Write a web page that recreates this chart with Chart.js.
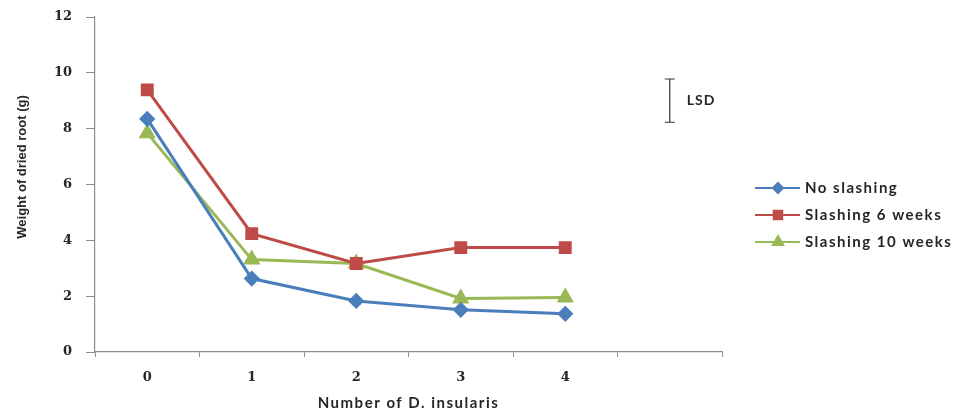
<!DOCTYPE html>
<html>
<head>
<meta charset="utf-8">
<script src="https://cdn.jsdelivr.net/npm/chart.js@4"></script>
<style>
  html, body { margin: 0; padding: 0; background: #fff; }
  #wrap { width: 974px; height: 413px; position: relative; }
</style>
</head>
<body>
<div id="wrap"><canvas id="c" width="974" height="413"></canvas></div>
<script>
const categories = ['0', '1', '2', '3', '4', ''];
const noSlashing = [8.35, 2.63, 1.83, 1.51, 1.37];
const slashing6 = [9.39, 4.24, 3.17, 3.74, 3.74];
const slashing10 = [7.84, 3.31, 3.17, 1.92, 1.95];
const lsdRange = [8.23, 9.78];
const lsdIndex = 5;

const COLORS = { blue: '#4a7ebb', red: '#be4b48', green: '#98b954' };
const TEXT = '#262626';

// draws y title, x title, LSD bar and the legend
const extras = {
  id: 'extras',
  afterDraw(chart) {
    const { ctx, scales } = chart;
    ctx.save();

    // LSD bar
    const x = scales.x.getPixelForValue(lsdIndex);
    const y1 = scales.y.getPixelForValue(lsdRange[0]);
    const y2 = scales.y.getPixelForValue(lsdRange[1]);
    ctx.strokeStyle = '#333';
    ctx.lineWidth = 1.2;
    ctx.beginPath();
    ctx.moveTo(x, y1); ctx.lineTo(x, y2);
    ctx.moveTo(x - 5, y1); ctx.lineTo(x + 5, y1);
    ctx.moveTo(x - 5, y2); ctx.lineTo(x + 5, y2);
    ctx.stroke();
    ctx.fillStyle = TEXT;
    ctx.font = 'bold 14px Lato';
    ctx.letterSpacing = '1px';
    ctx.textBaseline = 'middle';
    ctx.textAlign = 'left';
    ctx.fillText('LSD', x + 17, (y1 + y2) / 2);

    // x axis title
    ctx.font = 'bold 15px Lato';
    ctx.letterSpacing = '1.5px';
    ctx.textAlign = 'center';
    ctx.fillText('Number of D. insularis', (scales.x.left + scales.x.right) / 2, 403);

    // y axis title
    ctx.save();
    ctx.translate(22, 167);
    ctx.rotate(-Math.PI / 2);
    ctx.font = 'bold 13px "Liberation Sans Narrow", "Liberation Sans"';
    ctx.letterSpacing = '0px';
    ctx.fillText('Weight of dried root (g)', 0, 0);
    ctx.restore();

    // legend
    ctx.font = 'bold 15px Lato';
    ctx.letterSpacing = '1.5px';
    ctx.textAlign = 'left';
    chart.data.datasets.forEach((ds, i) => {
      const ry = 188 + i * 27;
      ctx.strokeStyle = ds.borderColor;
      ctx.lineWidth = 2;
      ctx.beginPath();
      ctx.moveTo(755, ry); ctx.lineTo(800, ry);
      ctx.stroke();
      ctx.fillStyle = ds.borderColor;
      Chart.helpers.drawPoint(ctx, {
        pointStyle: ds.pointStyle, radius: ds.pointRadius - 1, borderWidth: 1
      }, 778, ry);
      ctx.fillStyle = TEXT;
      ctx.fillText(ds.label, 805, ry);
    });
    ctx.restore();
  }
};

const line = (label, data, color, style, r) => ({
  label, data,
  borderColor: color, backgroundColor: color,
  pointBackgroundColor: color, pointBorderColor: color,
  borderWidth: 3, pointStyle: style, pointRadius: r, pointHoverRadius: r,
  tension: 0
});

new Chart(document.getElementById('c'), {
  type: 'line',
  data: {
    labels: categories,
    datasets: [
      line('No slashing', noSlashing, COLORS.blue, 'rectRot', 6),
      line('Slashing 6 weeks', slashing6, COLORS.red, 'rect', 7),
      line('Slashing 10 weeks', slashing10, COLORS.green, 'triangle', 7)
    ]
  },
  options: {
    responsive: false,
    animation: false,
    events: [],
    layout: { padding: { left: 0, top: 17, right: 252, bottom: 0 } },
    plugins: { legend: { display: false }, tooltip: { enabled: false } },
    scales: {
      x: {
        offset: true,
        grid: { offset: true, drawOnChartArea: false, tickLength: 5, color: '#8c8c8c' },
        border: { color: '#8c8c8c', width: 1.2 },
        ticks: { color: TEXT, padding: 13, font: { family: 'DejaVu Serif', weight: 'bold', size: 13 } },
        afterFit: s => { s.height = 61; s.paddingLeft = 0; s.paddingRight = 0; }
      },
      y: {
        min: 0, max: 12,
        grid: { drawOnChartArea: false, tickLength: 9, color: '#8c8c8c' },
        border: { color: '#8c8c8c', width: 1.2 },
        ticks: { stepSize: 2, color: TEXT, padding: 14, font: { family: 'DejaVu Serif', weight: 'bold', size: 13 } },
        afterFit: s => { s.width = 95; s.paddingTop = 0; s.paddingBottom = 0; }
      }
    }
  },
  plugins: [extras]
});
</script>
</body>
</html>
